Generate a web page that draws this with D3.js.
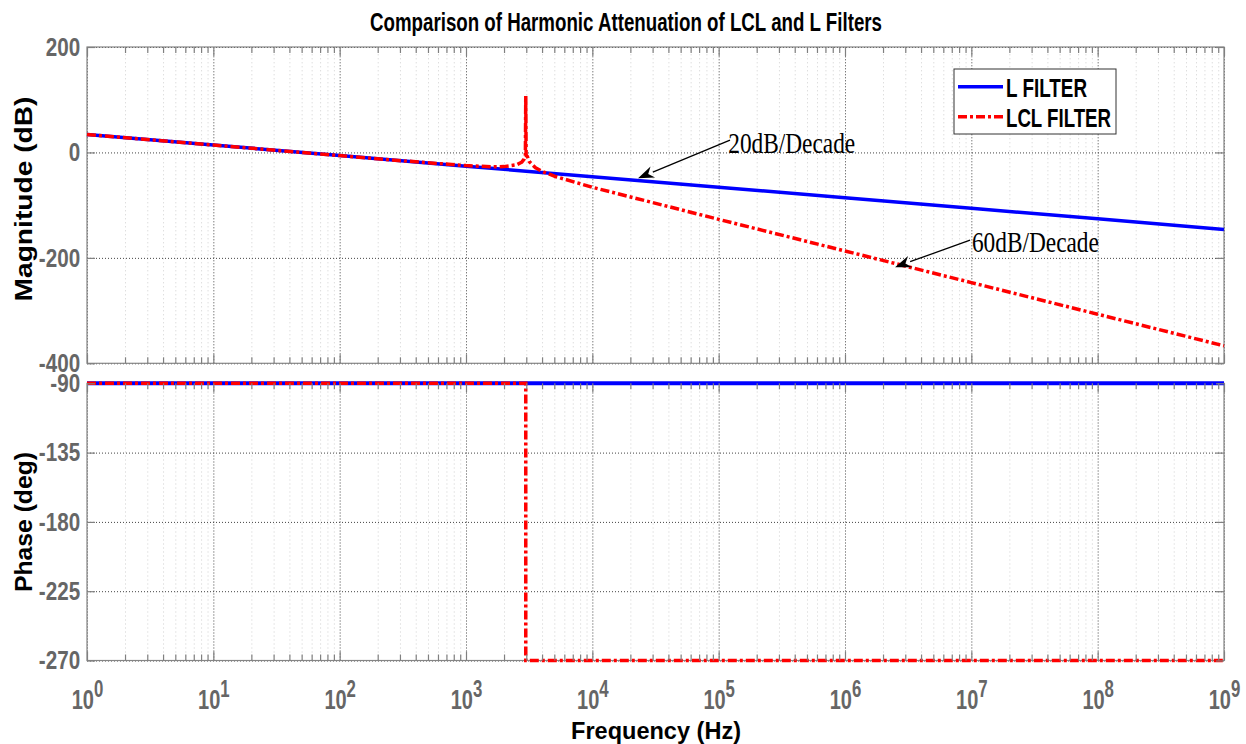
<!DOCTYPE html>
<html><head><meta charset="utf-8">
<script src="https://cdn.jsdelivr.net/npm/d3@7"></script>
<style>body{margin:0;background:#fff} svg{display:block}</style>
</head><body><svg id="c" width="1246" height="744"></svg>
<script>
// ---- data ----
const decades = [1, 1e1, 1e2, 1e3, 1e4, 1e5, 1e6, 1e7, 1e8, 1e9];
const decadeExp = ["0","1","2","3","4","5","6","7","8","9"];
const magTicks = [200, 0, -200, -400];
const phaseTicks = [-90, -135, -180, -225, -270];

const freqL = [1, 1e1, 1e2, 1e3, 1e4, 1e5, 1e6, 1e7, 1e8, 1e9];
const magL  = [34, 14, -6, -26, -46, -66, -86, -106, -126, -146];

const freqLCL = [1, 10, 100, 316, 1000, 1585, 1995, 2512, 2754, 2884, 2951, 2972, 2992, 3055, 3162, 3548, 3981, 5012, 1e4, 1e5, 1e6, 1e7, 1e8, 1e9];
const magLCL  = [34, 14, -6, -15.9, -25, -27.2, -26.9, -23.5, -18.7, -12.7, -5.5, 107, -6, -7.2, -17, -29, -35.6, -45.1, -66.1, -126.9, -186.9, -246.9, -306.9, -366.9];

const freqPhL = [1, 1e9];
const phaseL  = [-90, -90];
const freqPhLCL = [1, 2972, 2972, 1e9];
const phaseLCL  = [-90, -90, -270, -270];

const seriesNames = ["L FILTER", "LCL FILTER"];
const annotations = [
  {text: "20dB/Decade", tx: 1.19e5, ty: -1.3, fromF: 1.23e5, fromDb: 23.3, toF: 2.3e4, toDb: -48.8},
  {text: "60dB/Decade", tx: 1.01e7, ty: -189.2, fromF: 9.77e6, fromDb: -166.4, toF: 2.49e6, toDb: -217.6}
];

// ---- layout ----
const L = 87, R = 1224;
const T1 = 47, B1 = 363.3, T2 = 383.3, B2 = 660.5;
const svg = d3.select("#c");
const x = d3.scaleLog().domain([1, 1e9]).range([L, R]);
const yM = d3.scaleLinear().domain([-400, 200]).range([B1, T1]);
const yP = d3.scaleLinear().domain([-270, -90]).range([B2, T2]);

const minor = [];
for (let k = 0; k < 9; k++) for (let m = 2; m <= 9; m++) minor.push(m * Math.pow(10, k));

const FONT = "'Liberation Sans', Arial, sans-serif";
const SERIF = "'Liberation Serif', 'Times New Roman', serif";

function panel(top, bottom, y, ticks) {
  const g = svg.append("g");
  g.append("g").attr("transform", `translate(0,${bottom})`)
    .call(d3.axisBottom(x).tickValues(minor).tickSize(-(bottom - top)).tickFormat(""))
    .call(s => s.select(".domain").remove())
    .call(s => s.selectAll("line").attr("stroke", "#cfcfcf").attr("stroke-dasharray", "1,3"));
  g.append("g").attr("transform", `translate(0,${bottom})`)
    .call(d3.axisBottom(x).tickValues(decades).tickSize(-(bottom - top)).tickFormat(""))
    .call(s => s.select(".domain").remove())
    .call(s => s.selectAll("line").attr("stroke", "#444").attr("stroke-dasharray", "1,2"));
  g.append("g").attr("transform", `translate(${L},0)`)
    .call(d3.axisLeft(y).tickValues(ticks).tickSize(-(R - L)).tickFormat(""))
    .call(s => s.select(".domain").remove())
    .call(s => s.selectAll("line").attr("stroke", "#444").attr("stroke-dasharray", "1,2"));
  g.append("rect").attr("x", L).attr("y", top).attr("width", R - L).attr("height", bottom - top)
    .attr("fill", "none").attr("stroke", "#858585").attr("stroke-width", 1.2);
  return g;
}
function ticksFor(top, bottom, y, ticks) {
  const g = svg.append("g");
  const st = s => { s.select(".domain").remove(); s.selectAll("line").attr("stroke", "#808080").attr("stroke-width", 1.2); };
  g.append("g").attr("transform", `translate(0,${bottom})`).call(d3.axisBottom(x).tickValues(minor).tickSize(-6).tickFormat("")).call(st);
  g.append("g").attr("transform", `translate(0,${top})`).call(d3.axisTop(x).tickValues(minor).tickSize(-6).tickFormat("")).call(st);
  g.append("g").attr("transform", `translate(0,${bottom})`).call(d3.axisBottom(x).tickValues(decades).tickSize(-9).tickFormat("")).call(st);
  g.append("g").attr("transform", `translate(0,${top})`).call(d3.axisTop(x).tickValues(decades).tickSize(-9).tickFormat("")).call(st);
  g.append("g").attr("transform", `translate(${L},0)`).call(d3.axisLeft(y).tickValues(ticks).tickSize(-8).tickFormat("")).call(st);
  g.append("g").attr("transform", `translate(${R},0)`).call(d3.axisRight(y).tickValues(ticks).tickSize(-8).tickFormat("")).call(st);
  g.append("g").attr("transform", `translate(${L},0)`)
    .call(d3.axisLeft(y).tickValues(ticks).tickSize(0).tickPadding(8).tickFormat(d => String(d)))
    .call(s => s.select(".domain").remove())
    .call(s => s.selectAll("text").attr("font-family", FONT).attr("font-weight", "bold")
      .attr("font-size", 24).attr("fill", "#666").attr("transform", "scale(0.86,1.08)"));
}

panel(T1, B1, yM, magTicks);
panel(T2, B2, yP, phaseTicks);

const lineM = (fs, vs) => d3.line().x((d, i) => x(fs[i])).y(d => yM(d))(vs);
const lineP = (fs, vs) => d3.line().x((d, i) => x(fs[i])).y(d => yP(d))(vs);
const blue = "#0000ff", red = "#ff0000";

svg.append("path").attr("d", lineM(freqL, magL)).attr("fill", "none").attr("stroke", blue).attr("stroke-width", 3.5);
svg.append("path").attr("d", lineM(freqLCL, magLCL)).attr("fill", "none").attr("stroke", red).attr("stroke-width", 3.5)
  .attr("stroke-dasharray", "9,3,3,3").attr("stroke-linejoin", "round");
svg.append("path").attr("d", lineP(freqPhL, phaseL)).attr("fill", "none").attr("stroke", blue).attr("stroke-width", 4);
svg.append("path").attr("d", lineP(freqPhLCL, phaseLCL)).attr("fill", "none").attr("stroke", red).attr("stroke-width", 3.5)
  .attr("stroke-dasharray", "9,3,3,3");

ticksFor(T1, B1, yM, magTicks);
ticksFor(T2, B2, yP, phaseTicks);

// x tick labels
const xl = svg.append("g").attr("transform", `translate(0,${B2})`)
  .call(d3.axisBottom(x).tickValues(decades).tickSize(0).tickFormat(""));
xl.select(".domain").remove();
xl.selectAll(".tick").each(function(d, i) {
  const t = d3.select(this).append("text").attr("y", 44).attr("text-anchor", "middle")
    .attr("font-family", FONT).attr("font-weight", "bold").attr("fill", "#666")
    .attr("transform", "scale(0.8,1.1)");
  t.append("tspan").attr("font-size", 25).text("10");
  t.append("tspan").attr("font-size", 21).attr("dy", -11).text(decadeExp[i]);
});

// titles
svg.append("text").attr("transform", "translate(626,31) scale(1,1.2)").attr("text-anchor", "middle")
  .attr("font-family", FONT).attr("font-weight", "bold").attr("font-size", 21).attr("fill", "#000")
  .attr("textLength", 512).attr("lengthAdjust", "spacingAndGlyphs")
  .text("Comparison of Harmonic Attenuation of LCL and L Filters");
svg.append("text").attr("transform", "translate(656,739) scale(1,1.05)").attr("text-anchor", "middle")
  .attr("font-family", FONT).attr("font-weight", "bold").attr("font-size", 23).attr("fill", "#000")
  .attr("textLength", 170).attr("lengthAdjust", "spacingAndGlyphs")
  .text("Frequency  (Hz)");
svg.append("text").attr("transform", "translate(32,199) rotate(-90)").attr("text-anchor", "middle")
  .attr("font-family", FONT).attr("font-weight", "bold").attr("font-size", 23).attr("fill", "#000")
  .attr("textLength", 205).attr("lengthAdjust", "spacingAndGlyphs")
  .text("Magnitude (dB)");
svg.append("text").attr("transform", "translate(32,522) rotate(-90)").attr("text-anchor", "middle")
  .attr("font-family", FONT).attr("font-weight", "bold").attr("font-size", 23).attr("fill", "#000")
  .attr("textLength", 140).attr("lengthAdjust", "spacingAndGlyphs")
  .text("Phase (deg)");

// legend
const lg = svg.append("g");
lg.append("rect").attr("x", 954).attr("y", 69).attr("width", 162).attr("height", 65)
  .attr("fill", "#fff").attr("stroke", "#333").attr("stroke-width", 1);
const legY = [86.7, 116.7];
const legW = [81, 105];
seriesNames.forEach((n, i) => {
  const ln = lg.append("line").attr("x1", 958).attr("x2", 1003).attr("y1", legY[i]).attr("y2", legY[i])
    .attr("stroke", i === 0 ? blue : red).attr("stroke-width", 3.5);
  if (i === 1) ln.attr("stroke-dasharray", "9,3,3,3");
  lg.append("text").attr("transform", `translate(1006,${legY[i] + 10}) scale(1,1.1)`).attr("font-family", FONT).attr("font-weight", "bold")
    .attr("font-size", 23).attr("fill", "#000").attr("textLength", legW[i]).attr("lengthAdjust", "spacingAndGlyphs").text(n);
});

// annotations
annotations.forEach(a => {
  const x0 = x(a.fromF), y0 = yM(a.fromDb), x1 = x(a.toF), y1 = yM(a.toDb);
  const ang = Math.atan2(y1 - y0, x1 - x0);
  const hl = 16, hw = 6;
  const bx = x1 - hl * Math.cos(ang), by = y1 - hl * Math.sin(ang);
  svg.append("line").attr("x1", x0).attr("y1", y0).attr("x2", bx).attr("y2", by).attr("stroke", "#000").attr("stroke-width", 1.3);
  const px = -Math.sin(ang), py = Math.cos(ang);
  const nx = x1 - 11 * Math.cos(ang), ny = y1 - 11 * Math.sin(ang);
  svg.append("path").attr("d", `M${x1},${y1} L${bx + hw * px},${by + hw * py} L${nx},${ny} L${bx - hw * px},${by - hw * py} Z`)
    .attr("fill", "#000");
  svg.append("text").attr("transform", `translate(${x(a.tx)},${yM(a.ty)}) scale(1,1.1)`).attr("font-family", SERIF).attr("font-size", 27)
    .attr("fill", "#000").attr("textLength", 127).attr("lengthAdjust", "spacingAndGlyphs").text(a.text);
});
</script></body></html>
